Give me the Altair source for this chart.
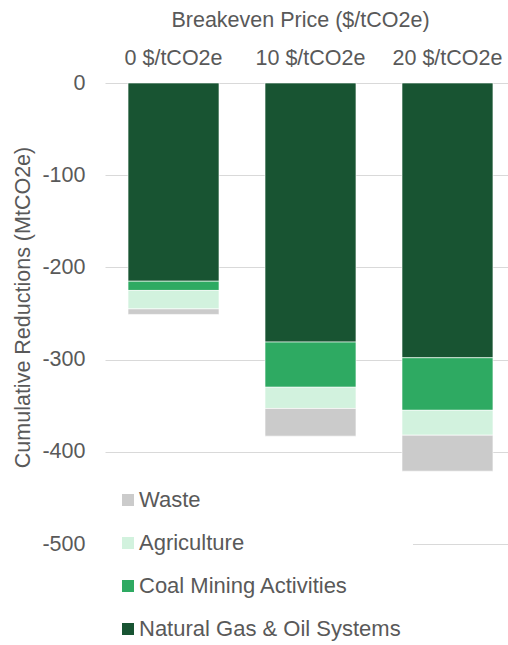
import altair as alt
import pandas as pd

prices = ["0 $/tCO2e", "10 $/tCO2e", "20 $/tCO2e"]
sectors = ["Natural Gas & Oil Systems", "Coal Mining Activities", "Agriculture", "Waste"]
natgas = [-215, -281, -298]
coal = [-10, -49, -57]
agri = [-20, -23, -27]
waste = [-6, -30, -39]

legend_order = ["Waste", "Agriculture", "Coal Mining Activities", "Natural Gas & Oil Systems"]
colors = ["#CBCBCB", "#D2F2DE", "#2EAA62", "#185432"]

rows = []
for i, p in enumerate(prices):
    for k, (s, vals) in enumerate(zip(sectors, [natgas, coal, agri, waste])):
        rows.append({"price": p, "sector": s, "value": vals[i], "rank": k})
df = pd.DataFrame(rows)

FONT = "Liberation Sans"
GREY = "#595959"

chart = alt.Chart(df).mark_bar(stroke="white", strokeWidth=0.6).encode(
    x=alt.X("price:N", sort=prices,
            scale=alt.Scale(paddingInner=0.336, paddingOuter=0.139, align=0.605),
            axis=alt.Axis(orient="top", title="Breakeven Price ($/tCO2e)", labelAngle=0,
                          domain=False, ticks=False, labelPadding=14,
                          labelFont=FONT, labelFontSize=21.5, labelColor=GREY,
                          titleFont=FONT, titleFontSize=21.5, titleColor=GREY, titleFontWeight="normal",
                          titleX=195, titleY=-57, titleBaseline="alphabetic", titleAlign="center")),
    y=alt.Y("value:Q", stack="zero",
            scale=alt.Scale(domain=[-500, 0], nice=False),
            axis=alt.Axis(values=[0, -100, -200, -300, -400, -500], title="Cumulative Reductions (MtCO2e)",
                          labelExpr="toString(datum.value)", domain=False, ticks=False, labelPadding=20,
                          grid=True, gridColor="#d9d9d9", gridWidth=1.2,
                          labelFont=FONT, labelFontSize=21.5, labelColor=GREY,
                          titleFont=FONT, titleFontSize=21.5, titleColor=GREY, titleFontWeight="normal",
                          titleX=-82, titleY=224, titleBaseline="middle", titleAlign="center", titleAngle=-90)),
    color=alt.Color("sector:N", scale=alt.Scale(domain=legend_order, range=colors),
                    legend=alt.Legend(title=None, orient="none", legendX=0, legendY=394,
                                      symbolType="square", symbolSize=144, symbolStrokeWidth=0,
                                      labelOffset=0, rowPadding=21, padding=12,
                                      fillColor="white", labelFontSize=22, labelColor=GREY,
                                      labelFont=FONT, labelLimit=400)),
    order=alt.Order("rank:Q"),
).properties(
    width=403, height=461,
    background="white",
    autosize=alt.AutoSizeParams(type="none"),
    padding={"left": 105, "top": 83, "right": 0, "bottom": 101},
).configure_view(stroke=None)

chart.save("out.html", embed_options={"renderer": "svg", "actions": False})
